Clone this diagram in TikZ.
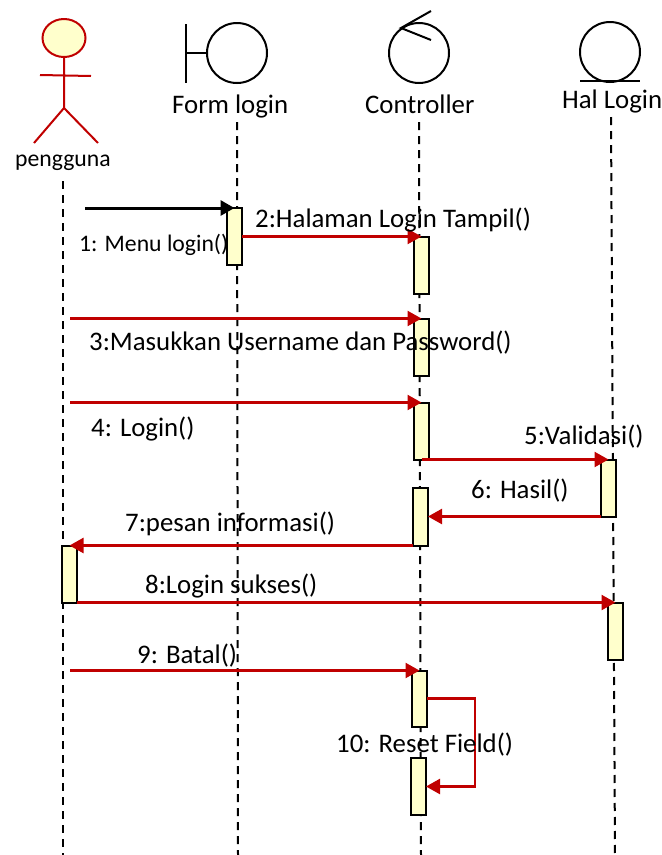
\documentclass[tikz,border=0pt]{standalone}
\usepackage{fontspec}
\setmainfont{Carlito}
\usepackage{tikz}
\usetikzlibrary{arrows.meta,shapes.geometric}
\definecolor{umlred}{HTML}{C00000}
\definecolor{barfill}{HTML}{FFFFCC}
\tikzstyle{bar} = [rectangle, draw, fill=barfill, line width=2pt, minimum width=15pt, minimum height=57pt, inner sep=0pt, outer sep=0pt]
\tikzstyle{life} = [draw, dashed, line width=2pt, dash pattern=on 8pt off 6pt]
\tikzstyle{msg} = [draw=umlred, line width=2.4pt, -{Triangle[length=14pt,width=15pt,fill=umlred]}]
\tikzstyle{obj} = [circle, draw, line width=2pt, minimum size=60pt, inner sep=0pt, outer sep=0pt]
\tikzstyle{lbl} = [inner sep=0pt, anchor=west, font=\fontsize{26.8}{30}\selectfont]
\tikzstyle{small} = [inner sep=0pt, anchor=west, font=\fontsize{23.7}{28}\selectfont]

\begin{document}
\begin{tikzpicture}[x=1pt,y=-1pt]
    \useasboundingbox (0,0) rectangle (662,855);
    % Lifelines
    \coordinate (usertop) at (63,181);
    \coordinate (userend) at (63,855);
    \coordinate (formtop) at (237,122);
    \coordinate (formend) at (238,855);
    \coordinate (ctrltop) at (419,122);
    \coordinate (ctrlend) at (421,855);
    \coordinate (haltop) at (611,117);
    \coordinate (halend) at (615,855);
    \path [life] (usertop) -- (userend);
    \path [life] (formtop) -- (formend);
    \path [life] (ctrltop) -- (ctrlend);
    \path [life] (haltop) -- (halend);
    % Actor
    \node [ellipse, draw=umlred, fill=barfill, line width=2pt, minimum width=43pt, minimum height=38pt, inner sep=0pt, outer sep=0pt] (head) at (64,38) {};
    \coordinate (hip) at (64,108);
    \coordinate (arml) at (40,75);
    \coordinate (armr) at (91,76);
    \coordinate (legl) at (34,143);
    \coordinate (legr) at (98,143);
    \draw [umlred, line width=2pt] (head.south) -- (hip) (arml) -- (armr) (legl) -- (hip) -- (legr);
    \node [small] (pengguna) at (15,163) {pengguna};
    % Form login
    \node [obj] (form) at (237,53) {};
    \coordinate (formbt) at (186,24);
    \coordinate (formbb) at (186,83);
    \coordinate (formbm) at (186,53);
    \draw [line width=2pt] (formbt) -- (formbb) (formbm) -- (form.west);
    \node [lbl] (formlbl) at (172,106) {Form login};
    % Controller
    \node [obj] (ctrl) at (419,53) {};
    \coordinate (ctrlup) at (431,11);
    \coordinate (ctrltip) at (401,28);
    \coordinate (ctrldn) at (431,40);
    \draw [line width=2pt] (ctrlup) -- (ctrltip) -- (ctrldn);
    \node [lbl] (ctrllbl) at (365,104) {Controller};
    % Hal Login
    \node [obj] (hal) at (610,52) {};
    \coordinate (halbl) at (580,81);
    \coordinate (halbr) at (640,81);
    \draw [line width=1.3pt] (halbl) -- (halbr);
    \node [lbl] (hallbl) at (562,101) {Hal Login};
    % Activation bars
    \node [bar] (a) at (234.5,236.5) {};
    \node [bar] (b) at (421.5,265) {};
    \node [bar] (c) at (421.5,347) {};
    \node [bar] (d) at (421.5,431) {};
    \node [bar] (e) at (608.5,488) {};
    \node [bar, minimum height=58pt] (f) at (420.5,516.5) {};
    \node [bar] (g) at (69.5,574) {};
    \node [bar] (h) at (615.5,631) {};
    \node [bar, minimum height=56pt] (i) at (419.5,698.5) {};
    \node [bar] (j) at (418.5,786.5) {};
    % Draw edges
    \coordinate (s1) at (85,208);
    \coordinate (s3) at (70,318.5);
    \coordinate (s4) at (70,402.5);
    \coordinate (s9) at (70,670.5);
    \draw [line width=3pt, -{Triangle[length=14pt,width=15pt]}] (s1) -- (a.north);
    \path [msg] (a.east) -- (b.north);
    \path [msg] (s3) -- (c.north);
    \path [msg] (s4) -- (d.north);
    \path [msg] (d.south) -- (e.north);
    \path [msg] (e.south west) -- (f.east);
    \path [msg] (f.south west) -- (g.north);
    \path [msg] (g.south east) -- (h.north);
    \path [msg] (s9) -- (i.north);
    \path [msg] (i.east) -- ++(48,0) |- (j.east);
    % Labels
    \node [small] (m1) at (79,245) {1: Menu login()};
    \node [lbl] (m2) at (255,220) {2:Halaman Login Tampil()};
    \node [lbl] (m3) at (89,343) {3:Masukkan Username dan Password()};
    \node [lbl] (m4) at (91,429) {4: Login()};
    \node [lbl] (m5) at (524,437) {5:Validasi()};
    \node [lbl] (m6) at (471,491) {6: Hasil()};
    \node [lbl] (m7) at (125,524) {7:pesan informasi()};
    \node [lbl] (m8) at (145,586) {8:Login sukses()};
    \node [lbl] (m9) at (137,656) {9: Batal()};
    \node [lbl] (m10) at (336,745) {10: Reset Field()};
\end{tikzpicture}
\end{document}
